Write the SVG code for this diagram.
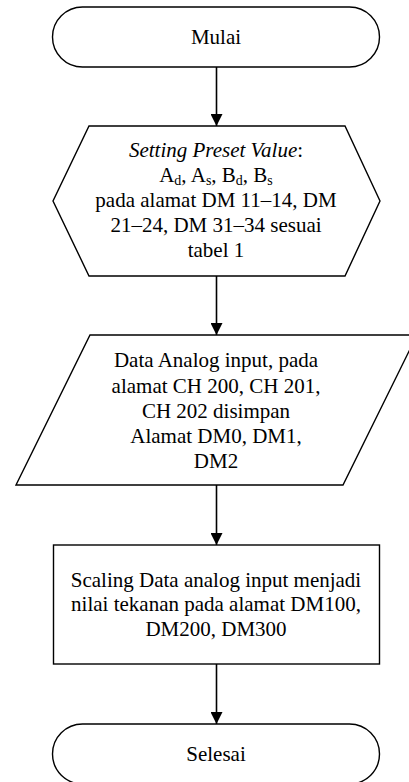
<svg xmlns="http://www.w3.org/2000/svg" width="409" height="782" viewBox="0 0 409 782">
<style>
.s{fill:#fff;stroke:#000;stroke-width:1.4}
.t{font-size:21px;fill:#000;text-anchor:middle}
.c{stroke:#000;stroke-width:1.6;fill:none}
</style>
<defs>
<marker id="a" markerWidth="12" markerHeight="12" refX="12" refY="6" orient="auto" markerUnits="userSpaceOnUse">
<path d="M0,0 L12,6 L0,12 Z" fill="#000"/>
</marker>
</defs>
<rect width="409" height="782" fill="#fff"/>
<g id="connectors">
<line class="c" x1="216.5" y1="67" x2="216.5" y2="126" marker-end="url(#a)"/>
<line class="c" x1="216.5" y1="276" x2="216.5" y2="335" marker-end="url(#a)"/>
<line class="c" x1="216.5" y1="485" x2="216.5" y2="545" marker-end="url(#a)"/>
<line class="c" x1="216.5" y1="664" x2="216.5" y2="724" marker-end="url(#a)"/>
</g>
<g font-family="Times New Roman, Liberation Serif, DejaVu Serif, serif">
<g id="mulai">
<rect class="s" x="52.5" y="7" width="327" height="60" rx="30" ry="30"/>
<text class="t" x="216" y="44">Mulai</text>
</g>
<g id="preset">
<polygon class="s" points="89,126 345,126 380,201 345,276 89,276 53,201"/>
<text class="t" x="216" y="157"><tspan font-style="italic">Setting Preset Value</tspan>:</text>
<text class="t" x="216" y="182">A<tspan font-size="14" dy="3">d</tspan><tspan dy="-3">, A</tspan><tspan font-size="14" dy="3">s</tspan><tspan dy="-3">, B</tspan><tspan font-size="14" dy="3">d</tspan><tspan dy="-3">, B</tspan><tspan font-size="14" dy="3">s</tspan></text>
<text class="t" x="216" y="207">pada alamat DM 11–14, DM</text>
<text class="t" x="216" y="232">21–24, DM 31–34 sesuai</text>
<text class="t" x="216" y="257">tabel 1</text>
</g>
<g id="input">
<polygon class="s" points="90,335 417,335 343,485 16,485"/>
<text class="t" x="216" y="367">Data Analog input, pada</text>
<text class="t" x="216" y="393">alamat CH 200, CH 201,</text>
<text class="t" x="216" y="418">CH 202 disimpan</text>
<text class="t" x="216" y="443">Alamat DM0, DM1,</text>
<text class="t" x="216" y="468">DM2</text>
</g>
<g id="scaling">
<rect class="s" x="53.5" y="545" width="326" height="119"/>
<text class="t" x="216" y="587">Scaling Data analog input menjadi</text>
<text class="t" x="216" y="611">nilai tekanan pada alamat DM100,</text>
<text class="t" x="216" y="636">DM200, DM300</text>
</g>
<g id="selesai">
<rect class="s" x="52.5" y="724" width="327" height="60" rx="30" ry="30"/>
<text class="t" x="216" y="761">Selesai</text>
</g>
</g>
</svg>
